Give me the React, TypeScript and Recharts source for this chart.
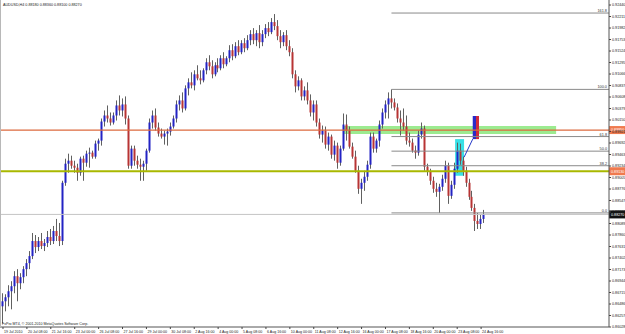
import React from "react";
import { ComposedChart, Bar, XAxis, YAxis, ReferenceLine, ReferenceArea } from "recharts";

// AUDUSD H4, 19 Jul 2010 .. 24 Aug 2010
const opens = [
  0.8644, 0.8654, 0.8662, 0.8674, 0.8684, 0.8704, 0.8690, 0.8702, 0.8718, 0.8730,
  0.8744, 0.8774, 0.8762, 0.8774, 0.8764, 0.8770, 0.8782, 0.8774, 0.8794, 0.8784,
  0.8774, 0.8890, 0.8928, 0.8934, 0.8924, 0.8920, 0.8910, 0.8938, 0.8930, 0.8948,
  0.8950, 0.8942, 0.8968, 0.8974, 0.9012, 0.9024, 0.9018, 0.9010, 0.9024, 0.9044,
  0.9034, 0.9046, 0.9018, 0.8924, 0.8958, 0.8934, 0.8926, 0.8922, 0.8928, 0.8954,
  0.9010, 0.9024, 0.9000, 0.8988, 0.8982, 0.8988, 0.8992, 0.9002, 0.9018, 0.9046,
  0.9054, 0.9038, 0.9078, 0.9090, 0.9084, 0.9106, 0.9098, 0.9094, 0.9114, 0.9130,
  0.9122, 0.9106, 0.9124, 0.9118, 0.9138, 0.9126, 0.9138, 0.9154, 0.9142, 0.9162,
  0.9150, 0.9168, 0.9158, 0.9174, 0.9186, 0.9174, 0.9188, 0.9170, 0.9186, 0.9198,
  0.9190, 0.9210, 0.9202, 0.9182, 0.9170, 0.9184, 0.9162, 0.9150, 0.9106, 0.9082,
  0.9094, 0.9062, 0.9074, 0.9054, 0.9030, 0.9046, 0.9010, 0.8986, 0.8994, 0.8966,
  0.8982, 0.8946, 0.8964, 0.8930, 0.8958, 0.9006, 0.8994, 0.8962, 0.8942, 0.8914,
  0.8878, 0.8890, 0.8902, 0.8926, 0.8982, 0.8958, 0.8974, 0.9006, 0.9030, 0.9046,
  0.9058, 0.9050, 0.9040, 0.9018, 0.9010, 0.9002, 0.8974, 0.8970, 0.8954, 0.8950,
  0.8986, 0.8998, 0.8922, 0.8912, 0.8894, 0.8878, 0.8872, 0.8882, 0.8898, 0.8924,
  0.8864, 0.8886, 0.8918, 0.8954, 0.8934, 0.8914, 0.8890, 0.8862, 0.8840, 0.8814,
  0.8808, 0.8818,
];
const highs = [
  0.8670, 0.8668, 0.8686, 0.8694, 0.8714, 0.8718, 0.8710, 0.8724, 0.8738, 0.8754,
  0.8790, 0.8786, 0.8782, 0.8790, 0.8778, 0.8794, 0.8798, 0.8804, 0.8818, 0.8810,
  0.8894, 0.8938, 0.8948, 0.8944, 0.8934, 0.8928, 0.8942, 0.8944, 0.8954, 0.8960,
  0.8954, 0.8974, 0.8978, 0.9018, 0.9034, 0.9044, 0.9030, 0.9030, 0.9054, 0.9064,
  0.9058, 0.9062, 0.9024, 0.8964, 0.8964, 0.8944, 0.8938, 0.8934, 0.8958, 0.9018,
  0.9034, 0.9038, 0.9010, 0.8998, 0.8994, 0.8998, 0.9010, 0.9024, 0.9054, 0.9064,
  0.9070, 0.9084, 0.9098, 0.9110, 0.9114, 0.9124, 0.9114, 0.9118, 0.9138, 0.9144,
  0.9134, 0.9130, 0.9138, 0.9144, 0.9150, 0.9142, 0.9164, 0.9166, 0.9170, 0.9174,
  0.9174, 0.9178, 0.9184, 0.9194, 0.9198, 0.9194, 0.9204, 0.9194, 0.9206, 0.9210,
  0.9218, 0.9226, 0.9214, 0.9194, 0.9190, 0.9194, 0.9174, 0.9158, 0.9114, 0.9102,
  0.9098, 0.9082, 0.9090, 0.9066, 0.9054, 0.9054, 0.9018, 0.9004, 0.9002, 0.8990,
  0.8986, 0.8974, 0.8970, 0.8964, 0.9028, 0.9026, 0.9002, 0.8970, 0.8954, 0.8924,
  0.8898, 0.8914, 0.8934, 0.8990, 0.8990, 0.8978, 0.9014, 0.9038, 0.9054, 0.9070,
  0.9076, 0.9058, 0.9048, 0.9034, 0.9038, 0.9024, 0.8990, 0.8978, 0.8964, 0.8994,
  0.9010, 0.9004, 0.8928, 0.8918, 0.8902, 0.8890, 0.8888, 0.8906, 0.8934, 0.8930,
  0.8894, 0.8930, 0.8970, 0.8968, 0.8942, 0.8922, 0.8898, 0.8874, 0.8848, 0.8830,
  0.8826, 0.8836,
];
const lows = [
  0.8610, 0.8634, 0.8644, 0.8638, 0.8670, 0.8654, 0.8678, 0.8690, 0.8704, 0.8718,
  0.8738, 0.8750, 0.8754, 0.8758, 0.8754, 0.8762, 0.8766, 0.8768, 0.8774, 0.8764,
  0.8766, 0.8884, 0.8910, 0.8918, 0.8910, 0.8894, 0.8904, 0.8894, 0.8922, 0.8920,
  0.8938, 0.8938, 0.8954, 0.8964, 0.9002, 0.9010, 0.9004, 0.9006, 0.9014, 0.9024,
  0.9022, 0.9006, 0.8918, 0.8918, 0.8924, 0.8918, 0.8894, 0.8894, 0.8914, 0.8950,
  0.8998, 0.8994, 0.8982, 0.8978, 0.8966, 0.8964, 0.8984, 0.8998, 0.9010, 0.9034,
  0.9030, 0.9034, 0.9064, 0.9078, 0.9074, 0.9094, 0.9086, 0.9090, 0.9106, 0.9114,
  0.9098, 0.9102, 0.9110, 0.9114, 0.9118, 0.9122, 0.9130, 0.9134, 0.9138, 0.9144,
  0.9146, 0.9150, 0.9154, 0.9164, 0.9166, 0.9162, 0.9158, 0.9162, 0.9178, 0.9182,
  0.9186, 0.9194, 0.9174, 0.9158, 0.9162, 0.9154, 0.9142, 0.9098, 0.9070, 0.9074,
  0.9054, 0.9054, 0.9046, 0.9022, 0.9014, 0.9002, 0.8978, 0.8970, 0.8958, 0.8954,
  0.8938, 0.8934, 0.8918, 0.8924, 0.8954, 0.8974, 0.8958, 0.8938, 0.8910, 0.8868,
  0.8848, 0.8874, 0.8894, 0.8918, 0.8950, 0.8950, 0.8962, 0.8998, 0.9018, 0.9018,
  0.9038, 0.9034, 0.9010, 0.8984, 0.8994, 0.8966, 0.8962, 0.8950, 0.8938, 0.8944,
  0.8978, 0.8914, 0.8904, 0.8886, 0.8870, 0.8862, 0.8830, 0.8874, 0.8890, 0.8848,
  0.8858, 0.8878, 0.8910, 0.8926, 0.8904, 0.8882, 0.8856, 0.8834, 0.8794, 0.8798,
  0.8798, 0.8810,
];
const closes = [
  0.8654, 0.8662, 0.8674, 0.8684, 0.8704, 0.8690, 0.8702, 0.8718, 0.8730, 0.8744,
  0.8774, 0.8762, 0.8774, 0.8764, 0.8770, 0.8782, 0.8774, 0.8794, 0.8784, 0.8774,
  0.8890, 0.8928, 0.8934, 0.8924, 0.8920, 0.8910, 0.8938, 0.8930, 0.8948, 0.8950,
  0.8942, 0.8968, 0.8974, 0.9012, 0.9024, 0.9018, 0.9010, 0.9024, 0.9044, 0.9034,
  0.9046, 0.9018, 0.8924, 0.8958, 0.8934, 0.8926, 0.8922, 0.8928, 0.8954, 0.9010,
  0.9024, 0.9000, 0.8988, 0.8982, 0.8988, 0.8992, 0.9002, 0.9018, 0.9046, 0.9054,
  0.9038, 0.9078, 0.9090, 0.9084, 0.9106, 0.9098, 0.9094, 0.9114, 0.9130, 0.9122,
  0.9106, 0.9124, 0.9118, 0.9138, 0.9126, 0.9138, 0.9154, 0.9142, 0.9162, 0.9150,
  0.9168, 0.9158, 0.9174, 0.9186, 0.9174, 0.9188, 0.9170, 0.9186, 0.9198, 0.9190,
  0.9210, 0.9202, 0.9182, 0.9170, 0.9184, 0.9162, 0.9150, 0.9106, 0.9082, 0.9094,
  0.9062, 0.9074, 0.9054, 0.9030, 0.9046, 0.9010, 0.8986, 0.8994, 0.8966, 0.8982,
  0.8946, 0.8964, 0.8930, 0.8958, 0.9006, 0.8994, 0.8962, 0.8942, 0.8914, 0.8878,
  0.8890, 0.8902, 0.8926, 0.8982, 0.8958, 0.8974, 0.9006, 0.9030, 0.9046, 0.9058,
  0.9050, 0.9040, 0.9018, 0.9010, 0.9002, 0.8974, 0.8970, 0.8954, 0.8950, 0.8986,
  0.8998, 0.8922, 0.8912, 0.8894, 0.8878, 0.8872, 0.8882, 0.8898, 0.8924, 0.8864,
  0.8886, 0.8918, 0.8954, 0.8934, 0.8914, 0.8890, 0.8862, 0.8840, 0.8814, 0.8808,
  0.8818, 0.8827,
];

// one time label every 8 bars
const timeLabels = [
  "19 Jul 2010", "20 Jul 08:00", "21 Jul 16:00", "23 Jul 00:00", "26 Jul 08:00",
  "27 Jul 16:00", "29 Jul 00:00", "30 Jul 08:00", "2 Aug 16:00", "4 Aug 00:00",
  "5 Aug 08:00", "6 Aug 16:00", "10 Aug 00:00", "11 Aug 08:00", "12 Aug 16:00",
  "16 Aug 00:00", "17 Aug 08:00", "18 Aug 16:00", "20 Aug 00:00", "23 Aug 08:00",
  "24 Aug 16:00",
];
const timeTicks = timeLabels.map((_, k) => k * 8);

const priceTicks = [
  0.9244, 0.92211, 0.91982, 0.91753, 0.91524, 0.91295, 0.91066, 0.90837, 0.90608,
  0.90379, 0.9015, 0.89921, 0.89692, 0.89463, 0.89234, 0.89005, 0.88776, 0.88547,
  0.88318, 0.88089, 0.8786, 0.87631, 0.87402, 0.87173, 0.86944, 0.86715, 0.86486,
  0.86257, 0.86028,
];

// drawn objects
const orangeLevel = 0.8995;
const yellowLevel = 0.8913;
const fibHighBar = 130;
const fibLowBar = 146;
const fibRatios = [0, 0.382, 0.5, 0.618, 1, 1.618];
const greenBox = { x1: 113.8, x2: 185.1, y1: 0.8987, y2: 0.9003 };
const cyanBox = { x1: 151.3, x2: 154.3, y1: 0.8904, y2: 0.8977 };
const blueBox = { x1: 157.2, x2: 158.3, y1: 0.8977, y2: 0.9023 };
const redBox = { x1: 158.3, x2: 159.3, y1: 0.8977, y2: 0.9023 };
const trendLine = [{ x: 154.3, y: 0.8941 }, { x: 157.2, y: 0.8977 }];

const BULL = "#2323c4";
const BEAR = "#b83434";
const WICK = "#606060";
const FONT = "'Liberation Sans', Arial, sans-serif";

const data = opens.map((o, i) => ({
  i,
  open: o,
  high: highs[i],
  low: lows[i],
  close: closes[i],
  range: [lows[i], highs[i]],
}));

const last = data[data.length - 1];
const fibHigh = highs[fibHighBar];
const fibLow = lows[fibLowBar];

const Candle = (props: any) => {
  const { x, y, width, height, payload } = props;
  if (!payload || height == null) return null;
  const { open, high, low, close } = payload;
  const top = height >= 0 ? y : y + height;
  const span = Math.abs(height);
  const k = high > low ? span / (high - low) : 0;
  const cx = Math.floor(x + width / 2);
  const bTop = top + (high - Math.max(open, close)) * k;
  const bBot = top + (high - Math.min(open, close)) * k;
  return (
    <g>
      <line x1={cx + 0.5} x2={cx + 0.5} y1={top} y2={top + span} stroke={WICK} strokeWidth={1} />
      <rect
        x={cx - 0.5}
        y={bTop}
        width={2}
        height={Math.max(1, bBot - bTop)}
        fill={close >= open ? BULL : BEAR}
      />
    </g>
  );
};

const PriceTick = (props: any) => {
  const { x, y, payload } = props;
  return (
    <g>
      <line x1={609} x2={611} y1={y} y2={y} stroke="#444" />
      <text x={612} y={y + 1.3} fontSize={3.7} fill="#222" fontFamily={FONT}>
        {payload.value.toFixed(5)}
      </text>
    </g>
  );
};

const TimeTick = (props: any) => {
  const { x, y, payload } = props;
  return (
    <g>
      <line x1={x} x2={x} y1={327} y2={329} stroke="#444" />
      <text x={x + 1} y={333} fontSize={3.6} fill="#222" fontFamily={FONT}>
        {timeLabels[payload.value / 8]}
      </text>
    </g>
  );
};

const AxisTag = ({ viewBox, value, bg, fg }: any) => {
  if (!viewBox) return null;
  const right = viewBox.x + viewBox.width;
  return (
    <g>
      <rect x={right} y={viewBox.y - 4} width={17} height={8} fill={bg} />
      <text x={right + 2} y={viewBox.y + 1.4} fontSize={3.7} fill={fg} fontFamily={FONT}>
        {value}
      </text>
    </g>
  );
};

const FibLabel = ({ viewBox, value }: any) => {
  if (!viewBox) return null;
  return (
    <text
      x={viewBox.x + viewBox.width - 2}
      y={viewBox.y - 1}
      fontSize={3.8}
      fill="#333"
      textAnchor="end"
      fontFamily={FONT}
    >
      {value}
    </text>
  );
};

export default function App() {
  return (
    <div style={{ position: "absolute", left: 0, top: 0, width: 625, height: 334, background: "#fff" }}>
      <ComposedChart
        width={625}
        height={334}
        data={data}
        margin={{ top: 0, right: 0, left: 0, bottom: 0 }}
      >
        <ReferenceArea {...greenBox} fill="#9ceb90" fillOpacity={1} stroke="none" ifOverflow="visible" />
        <ReferenceArea {...cyanBox} fill="#38e0e6" fillOpacity={1} stroke="none" ifOverflow="visible" />
        <ReferenceArea {...blueBox} fill="#2a2ac8" fillOpacity={1} stroke="none" ifOverflow="visible" />
        <ReferenceArea {...redBox} fill="#d02a3c" fillOpacity={1} stroke="none" ifOverflow="visible" />
        <XAxis
          dataKey="i"
          type="number"
          domain={[-1, 202.8]}
          allowDataOverflow
          ticks={timeTicks}
          interval={0}
          height={7}
          tickLine={false}
          axisLine={{ stroke: "#555" }}
          tick={<TimeTick />}
        />
        <YAxis
          orientation="right"
          type="number"
          domain={[0.86028, 0.9254]}
          allowDataOverflow
          ticks={priceTicks}
          interval={0}
          width={16}
          tickLine={false}
          axisLine={{ stroke: "#555" }}
          tick={<PriceTick />}
        />
        <Bar dataKey="range" barSize={3} shape={<Candle />} isAnimationActive={false} />
        {fibRatios.map((r) => {
          const level = fibLow + (fibHigh - fibLow) * r;
          return (
            <ReferenceLine
              key={r}
              segment={[{ x: fibHighBar, y: level }, { x: 202.8, y: level }]}
              stroke="#8a8a8a"
              strokeWidth={1}
              ifOverflow="visible"
              label={<FibLabel value={(r * 100).toFixed(1)} />}
            />
          );
        })}
        <ReferenceLine
          y={orangeLevel}
          stroke="#dc6a3e"
          strokeWidth={1.2}
          label={<AxisTag value={orangeLevel.toFixed(5)} bg="#f07a4e" fg="#fff" />}
        />
        <ReferenceLine
          y={yellowLevel}
          stroke="#a9b800"
          strokeWidth={2}
          label={<AxisTag value={yellowLevel.toFixed(5)} bg="#f07a4e" fg="#fff" />}
        />
        <ReferenceLine
          y={last.close}
          stroke="#c4c4c4"
          strokeWidth={1}
          label={<AxisTag value={last.close.toFixed(5)} bg="#111" fg="#fff" />}
        />
        <ReferenceLine segment={trendLine} stroke="#2438c8" strokeWidth={1} ifOverflow="visible" />
      </ComposedChart>
      <svg width={625} height={334} style={{ position: "absolute", left: 0, top: 0, pointerEvents: "none" }}>
        <line x1={0.5} x2={0.5} y1={0} y2={327} stroke="#b8b8b8" />
        <text x={3} y={6} fontSize={3.7} fill="#222" fontFamily={FONT}>
          {`AUDUSD,H4 ${last.open.toFixed(5)} ${last.high.toFixed(5)} ${last.low.toFixed(5)} ${last.close.toFixed(5)}`}
        </text>
        <text x={2} y={325} fontSize={3.6} fill="#222" fontFamily={FONT}>
          FxPro MT4, © 2001-2010 MetaQuotes Software Corp.
        </text>
      </svg>
    </div>
  );
}
